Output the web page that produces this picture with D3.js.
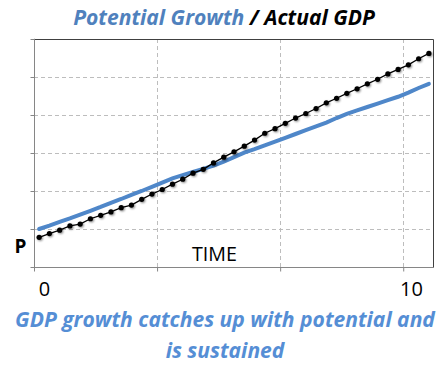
<!DOCTYPE html>
<html>
<head>
<meta charset="utf-8">
<script src="https://cdn.jsdelivr.net/npm/d3@7"></script>
<style>
  html, body { margin: 0; padding: 0; background: #fff; }
  svg { display: block; }
</style>
</head>
<body>
<svg id="chart" width="439" height="367"></svg>
<script>
// ---- data ----
const periods = d3.range(39);
const potential = [1.00,1.09,1.19,1.28,1.38,1.48,1.58,1.69,1.79,1.90,
                   2.00,2.11,2.22,2.33,2.42,2.50,2.58,2.67,2.77,2.89,
                   3.01,3.10,3.20,3.30,3.40,3.50,3.60,3.70,3.80,3.92,
                   4.03,4.12,4.21,4.30,4.39,4.48,4.59,4.71,4.82];
const actual = [0.78,0.88,0.97,1.08,1.13,1.27,1.36,1.45,1.56,1.63,
                1.78,1.92,2.04,2.18,2.31,2.47,2.57,2.74,2.89,3.03,
                3.18,3.34,3.52,3.64,3.78,3.92,4.04,4.17,4.32,4.44,
                4.57,4.69,4.82,4.94,5.08,5.20,5.32,5.48,5.62];
const yTicks = [0,1,2,3,4,5,6];
const xGridCats = [0,12,24,36];
const xTickLabels = [{label:"0", cat:0}, {label:"10", cat:36}];
const titleParts = [{text:"Potential Growth", color:"#4f81bd"}, {text:" / Actual GDP", color:"#000"}];
const captionLines = ["GDP growth catches up with potential and", "is sustained"];

// ---- layout ----
const L = 34, R = 434, T = 39, B = 267;
const svg = d3.select("#chart");

const x = d3.scaleBand().domain(periods).range([L, R]).padding(0);
const cx = i => x(i) + x.bandwidth() / 2;
const y = d3.scaleLinear().domain([0, 6]).range([B, T]);

function fitWidth(sel, target) {
  const node = sel.node();
  const fs = parseFloat(sel.attr("font-size"));
  const w = node.getComputedTextLength();
  if (w > 0) sel.attr("font-size", (fs * target / w).toFixed(2));
}

// gridlines horizontal
svg.append("g").selectAll("line").data(yTicks.filter(v => v > 0 && v < 6)).join("line")
  .attr("x1", L).attr("x2", R)
  .attr("y1", d => Math.round(y(d)) + 0.5).attr("y2", d => Math.round(y(d)) + 0.5)
  .attr("stroke", "#bdbdbd").attr("stroke-width", 1).attr("stroke-dasharray", "4,3");

// gridlines vertical
svg.append("g").selectAll("line").data(xGridCats.filter(c => c > 0)).join("line")
  .attr("x1", d => Math.round(x(d)) + 0.5).attr("x2", d => Math.round(x(d)) + 0.5)
  .attr("y1", T).attr("y2", B)
  .attr("stroke", "#bdbdbd").attr("stroke-width", 1).attr("stroke-dasharray", "4,3");

// plot border top/right
svg.append("path")
  .attr("d", `M${L},${T + 0.5}H${R - 0.5}V${B}`)
  .attr("fill", "none").attr("stroke", "#404040").attr("stroke-width", 1);

// left axis
const yAxis = d3.axisLeft(y).tickValues(yTicks).tickSize(4).tickFormat("");
const gy = svg.append("g").attr("transform", `translate(${L + 0.5},0)`).call(yAxis);
gy.select(".domain").attr("stroke", "#868686").attr("d", `M-0.5,${T}H0V${B + 4}`);
gy.selectAll(".tick line").attr("stroke", "#868686");

// bottom axis
const xTickScale = d3.scaleLinear().domain([0, 39]).range([L, R]);
const xAxis = d3.axisBottom(xTickScale).tickValues(xGridCats).tickSize(4).tickFormat("");
const gx = svg.append("g").attr("transform", `translate(0,${B + 0.5})`).call(xAxis);
gx.select(".domain").attr("stroke", "#868686").attr("d", `M${L},0H${R}`);
gx.selectAll(".tick line").attr("stroke", "#868686");

// shadow filter for dots
const defs = svg.append("defs");
const f = defs.append("filter").attr("id", "sh").attr("x", "-50%").attr("y", "-50%").attr("width", "200%").attr("height", "200%");
f.append("feGaussianBlur").attr("in", "SourceAlpha").attr("stdDeviation", 1).attr("result", "b");
f.append("feOffset").attr("in", "b").attr("dx", 0.5).attr("dy", 1).attr("result", "o");
f.append("feComponentTransfer").attr("in", "o").attr("result", "o2")
  .append("feFuncA").attr("type", "linear").attr("slope", 0.5);
const m = f.append("feMerge");
m.append("feMergeNode").attr("in", "o2");
m.append("feMergeNode").attr("in", "SourceGraphic");

// potential line
const linePot = d3.line().x((d, i) => cx(i)).y(d => y(d));
svg.append("path").datum(potential)
  .attr("d", linePot).attr("fill", "none")
  .attr("stroke", "#4f87c9").attr("stroke-width", 4).attr("stroke-linecap", "round");

// actual line + dots
svg.append("path").datum(actual)
  .attr("d", linePot).attr("fill", "none")
  .attr("stroke", "#000").attr("stroke-width", 1.3);
svg.append("g").attr("filter", "url(#sh)").selectAll("circle").data(actual).join("circle")
  .attr("cx", (d, i) => cx(i)).attr("cy", d => y(d)).attr("r", 2.6).attr("fill", "#000");

// title
const title = svg.append("text").attr("x", 224).attr("y", 25).attr("text-anchor", "middle")
  .attr("font-family", "'Open Sans', Lato, sans-serif").attr("font-size", 21)
  .attr("font-weight", "bold").attr("font-style", "italic");
title.selectAll("tspan").data(titleParts).join("tspan")
  .attr("fill", d => d.color).text(d => d.text);
fitWidth(title, 302);

// P label
svg.append("text").attr("x", 20.5).attr("y", 253).attr("text-anchor", "middle")
  .attr("font-family", "'Open Sans', sans-serif").attr("font-size", 19).attr("font-weight", "bold")
  .attr("fill", "#000").text("P");

// TIME label
const timeLbl = svg.append("text").attr("x", 214.5).attr("y", 261).attr("text-anchor", "middle")
  .attr("font-family", "'Open Sans', sans-serif").attr("font-size", 19)
  .attr("fill", "#000").text("TIME");
fitWidth(timeLbl, 45);

// x tick labels
svg.append("g").selectAll("text").data(xTickLabels).join("text")
  .attr("x", (d, i) => i === 0 ? 44.5 : 411.5).attr("y", 296).attr("text-anchor", "middle")
  .attr("font-family", "'Open Sans', sans-serif").attr("font-size", 20)
  .attr("fill", "#000").text(d => d.label);

// caption
const cap = svg.append("g").selectAll("text").data(captionLines).join("text")
  .attr("x", 225).attr("y", (d, i) => 327 + i * 31).attr("text-anchor", "middle")
  .attr("font-family", "'Open Sans', Lato, sans-serif").attr("font-size", 18)
  .attr("font-weight", "bold").attr("font-style", "italic")
  .attr("fill", "#558ed5").text(d => d);
const cap0 = d3.select(cap.nodes()[0]);
fitWidth(cap0, 420);
cap.attr("font-size", cap0.attr("font-size"));
</script>
</body>
</html>
